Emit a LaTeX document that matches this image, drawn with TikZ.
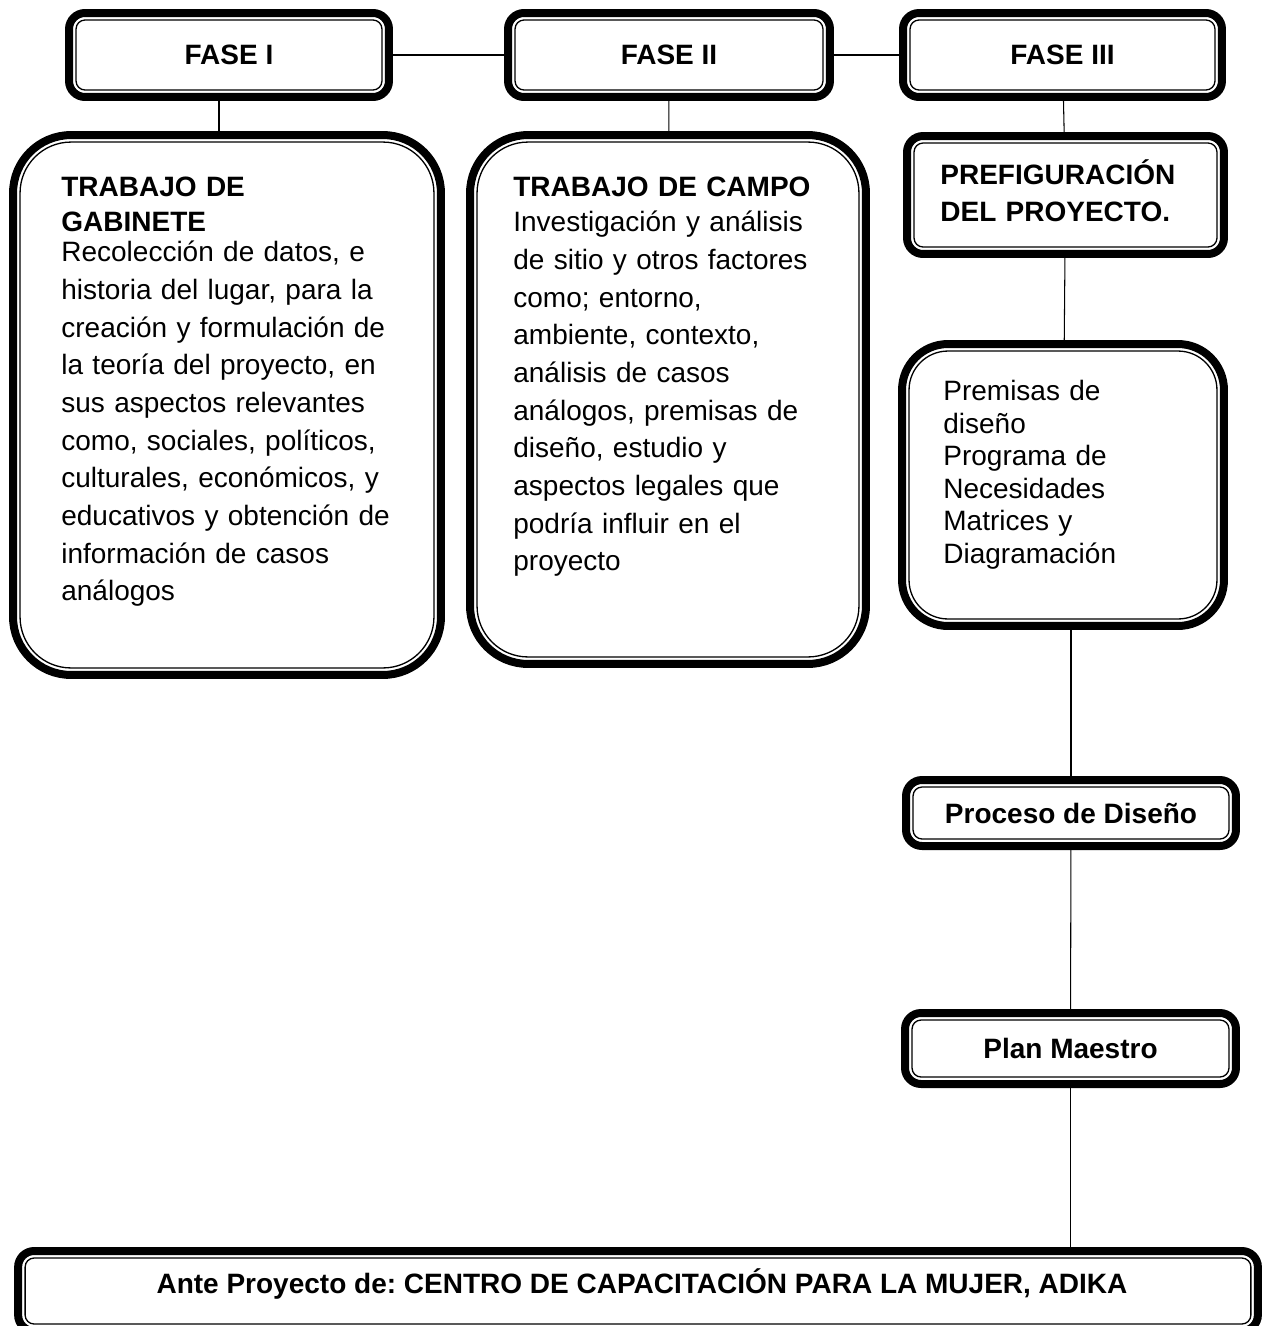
\documentclass[tikz,border=0pt]{standalone}
\usepackage{fontspec}
\setmainfont{Liberation Sans}
\usetikzlibrary{calc}
\frenchspacing
\newcommand{\boxfont}{\fontsize{15.94pt}{21.45pt}\selectfont}
\tikzset{
	phasebox/.style 2 args={draw, line width=0.16cm, rounded corners=#1, inner sep=0pt, align=center, font=\boxfont\bfseries,
		path picture={\draw[line width=0.75pt, rounded corners=#2] ([shift={(0.14cm,0.14cm)}]path picture bounding box.south west) rectangle ([shift={(-0.14cm,-0.14cm)}]path picture bounding box.north east);}},
	smallbox/.style={phasebox={0.32cm}{0.18cm}},
	bigbox/.style={phasebox={1.16cm}{1.02cm}},
	boxtext/.style={anchor=base west, inner sep=0pt, text width=#1, align=left, font=\boxfont},
	link/.style={line width=0.6pt}
}

\begin{document}
\begin{tikzpicture}[x=0.02cm, y=-0.02cm]
		\useasboundingbox (0,0) rectangle (1268,1326);
		\clip (0,0) rectangle (1268,1326);

		\node[smallbox, minimum width=6.40cm, minimum height=1.68cm] (f1) at (229,55) {FASE I};
		\node[smallbox, minimum width=6.44cm, minimum height=1.68cm] (f2) at (669,55) {FASE II};
		\node[smallbox, minimum width=6.38cm, minimum height=1.68cm] (f3) at (1062.5,55) {FASE III};

		\node[bigbox, minimum width=8.56cm, minimum height=10.80cm] (gab) at (227,405) {};
		\node[bigbox, minimum width=7.92cm, minimum height=10.58cm] (cam) at (668,399.5) {};
		\node[smallbox, minimum width=6.34cm, minimum height=2.36cm] (pre) at (1065.5,195) {};
		\node[phasebox={0.92cm}{0.78cm}, minimum width=6.44cm, minimum height=5.64cm] (prem) at (1063,485) {};
		\node[smallbox, minimum width=6.60cm, minimum height=1.32cm] (proc) at (1071,813) {Proceso de Diseño};
		\node[smallbox, minimum width=6.62cm, minimum height=1.42cm] (plan) at (1070.5,1048.5) {Plan Maestro};
		\node[smallbox, minimum width=24.80cm, minimum height=1.60cm] (ante) at (638,1291) {};

		\node[boxtext=7.6cm] (gabtext) at (61,196.7) {\textbf{TRABAJO DE}\\[-1.5pt]
			\textbf{GABINETE}\\[-4.4pt]
			Recolección de datos, e\\ historia del lugar, para la\\ creación y formulación de\\
			la teoría del proyecto, en\\ sus aspectos relevantes\\ como, sociales, políticos,\\
			culturales, económicos, y\\ educativos y obtención de\\ información de casos\\ análogos};
		\node[boxtext=7.0cm] (camtext) at (513,196.7) {\textbf{TRABAJO DE CAMPO}\\[-1.5pt]
			Investigación y análisis\\ de sitio y otros factores\\ como; entorno,\\ ambiente, contexto,\\
			análisis de casos\\ análogos, premisas de\\ diseño, estudio y\\ aspectos legales que\\
			podría influir en el\\ proyecto};
		\node[boxtext=5.6cm] (pretext) at (940,184) {\textbf{PREFIGURACIÓN}\\ \textbf{DEL PROYECTO.}};
		\node[boxtext=5.6cm, font=\fontsize{15.94pt}{18.5pt}\selectfont] (premtext) at (943,400.5)
			{Premisas de\\ diseño\\ Programa de\\ Necesidades\\ Matrices y\\ Diagramación};
		\node[anchor=base, inner sep=0pt, font=\boxfont\bfseries] (antetext) at (642,1293)
			{Ante Proyecto de: CENTRO DE CAPACITACIÓN PARA LA MUJER, ADIKA};

		\draw[link] (f1) -- (f2);
		\draw[link] (f2) -- (f3);
		\draw[link] ($(f1.south)+(-10,0)$) -- ($(f1.south |- gab.north)+(-10,0)$);
		\draw[link] (f2) -- (cam);
		\draw[link] (f3) -- (pre);
		\draw[link] (pre) -- (prem);
		\draw[link] (proc.north |- prem.south) -- (proc.north);
		\draw[link] (proc) -- (plan);
		\draw[link] (plan.south) -- (plan.south |- ante.north);
	\end{tikzpicture}
\end{document}
